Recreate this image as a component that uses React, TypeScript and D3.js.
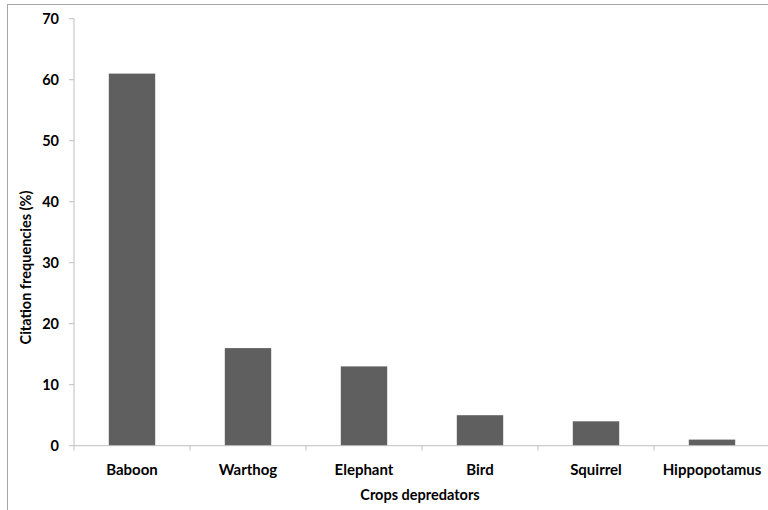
import React from "react";
import * as d3 from "d3";

const categories = ["Baboon", "Warthog", "Elephant", "Bird", "Squirrel", "Hippopotamus"];
const values = [61, 16, 13, 5, 4, 1];
const yTicks = [0, 10, 20, 30, 40, 50, 60, 70];

const W = 768;
const H = 510;
const margin = { left: 74, right: -2, top: 18.7, bottom: 64.3 };
const FONT = "Lato, 'Liberation Sans', sans-serif";

export default function App() {
  const x = d3
    .scaleBand<string>()
    .domain(categories)
    .range([margin.left, W - margin.right])
    .paddingInner(0.6)
    .paddingOuter(0.3);
  const xb = d3.scaleBand<string>().domain(categories).range([margin.left, W - margin.right]);
  const y = d3.scaleLinear().domain([0, 70]).range([H - margin.bottom, margin.top]);
  const y0 = y(0);
  const axisColor = "#bfbfbf";

  return (
    <svg width={W} height={H} style={{ position: "absolute", left: 0, top: 0, background: "#fff" }}>
      <rect x={7.5} y={4.5} width={800} height={520} fill="#fff" stroke="#a6a6a6" strokeWidth={1} />
      {/* y axis */}
      <line x1={margin.left} x2={margin.left} y1={y(70)} y2={y0} stroke={axisColor} />
      {yTicks.map((t) => (
        <g key={t}>
          <line x1={margin.left - 5} x2={margin.left} y1={y(t)} y2={y(t)} stroke={axisColor} />
          <text
            x={margin.left - 15}
            y={y(t)}
            dy="0.36em"
            textAnchor="end"
            fontFamily={FONT}
            fontWeight="bold"
            fontSize={14.5}
            fill="#000"
          >
            {t}
          </text>
        </g>
      ))}
      {/* bars */}
      {categories.map((c, i) => (
        <rect key={c} x={x(c)} y={y(values[i])} width={x.bandwidth()} height={y0 - y(values[i])} fill="#5f5f5f" />
      ))}
      {/* x axis */}
      <line x1={margin.left} x2={W - margin.right} y1={y0} y2={y0} stroke={axisColor} />
      {categories.map((c) => (
        <line key={"t" + c} x1={xb(c)!} x2={xb(c)!} y1={y0} y2={y0 + 5} stroke={axisColor} />
      ))}
      {categories.map((c) => (
        <text
          key={"l" + c}
          x={xb(c)! + xb.bandwidth() / 2}
          y={474.5}
          textAnchor="middle"
          fontFamily={FONT}
          fontWeight="bold"
          fontSize={15}
          fill="#000"
        >
          {c}
        </text>
      ))}
      <text x={420} y={500} textAnchor="middle" fontFamily={FONT} fontWeight="bold" fontSize={14.5} fill="#000">
        Crops depredators
      </text>
      <text
        transform={`translate(31,267.5) rotate(-90)`}
        textAnchor="middle"
        fontFamily={FONT}
        fontWeight="bold"
        fontSize={14.5}
        fill="#000"
      >
        Citation frequencies (%)
      </text>
    </svg>
  );
}
